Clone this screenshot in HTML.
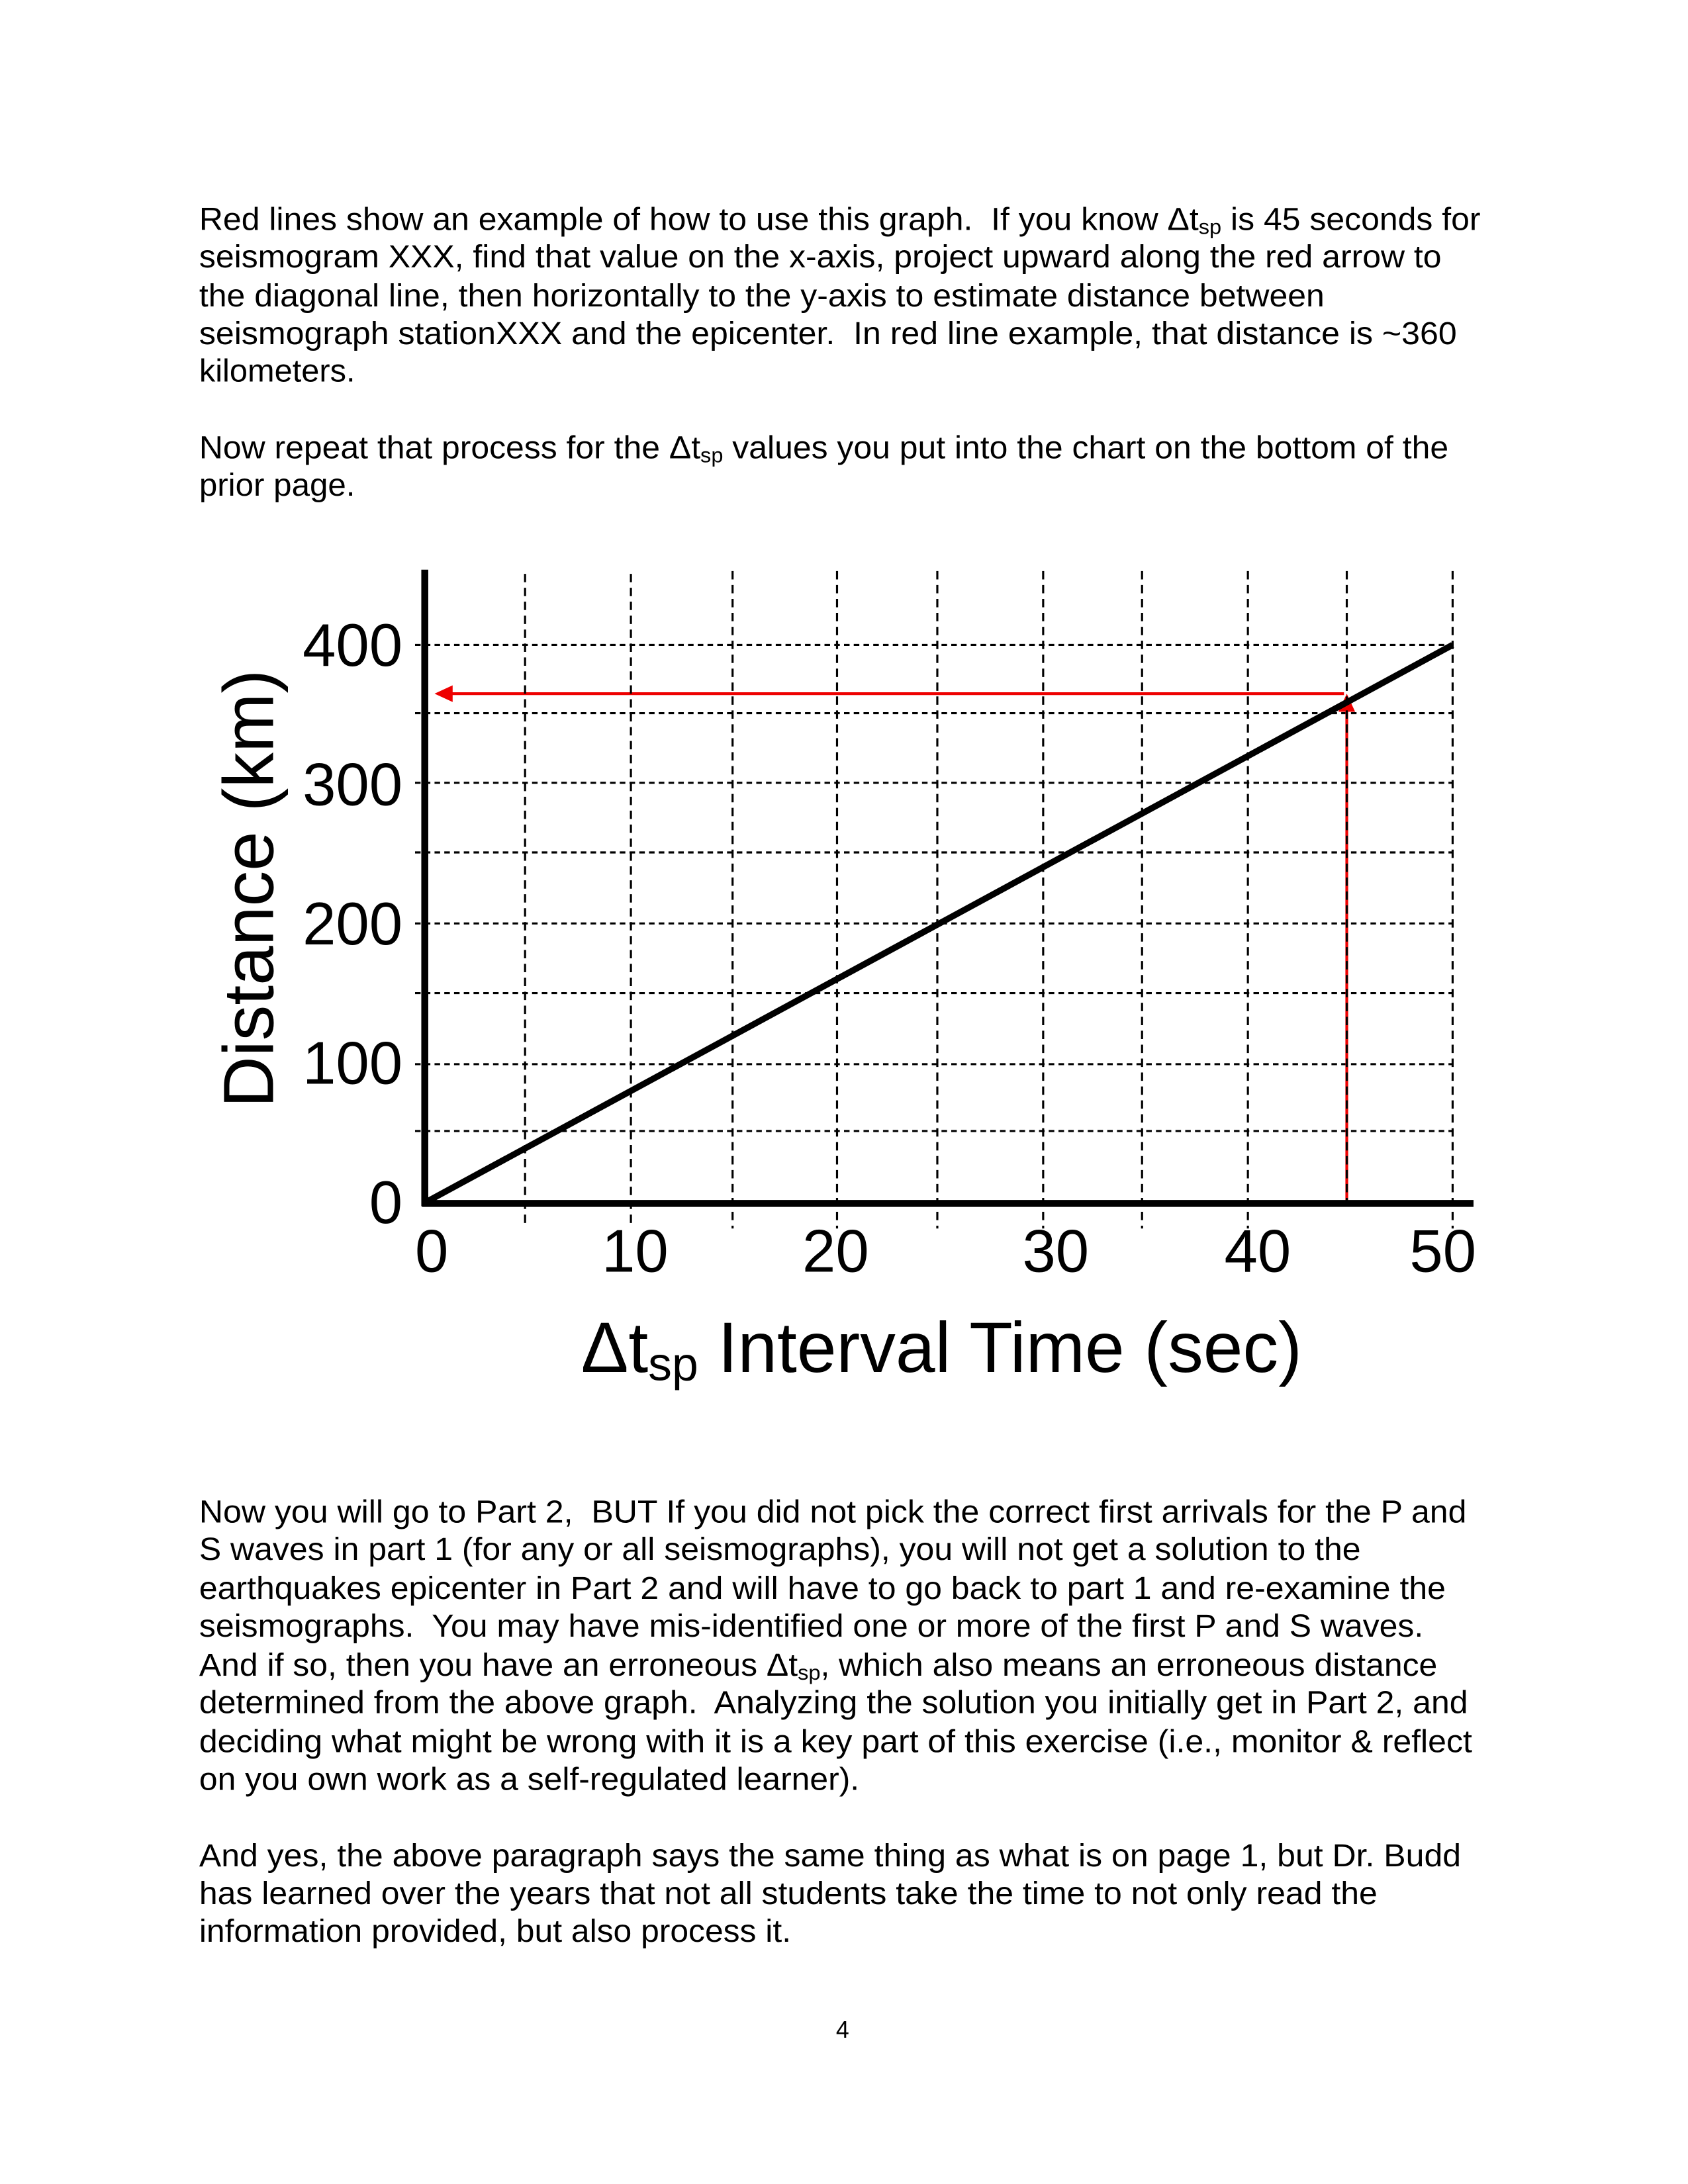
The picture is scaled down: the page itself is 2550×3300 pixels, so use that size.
<!DOCTYPE html>
<html><head><meta charset="utf-8"><style>
html,body{margin:0;padding:0;background:#fff;}
svg{display:block;}
text{font-family:"Liberation Sans",Arial,sans-serif;fill:#000;white-space:pre;}
</style></head><body>
<svg width="2550" height="3300" viewBox="0 0 1212 1568" preserveAspectRatio="none" xmlns="http://www.w3.org/2000/svg" xml:space="preserve">
<rect width="1212" height="1568" fill="#fff"/>
<g font-size="23">
<text x="143" y="165" textLength="920" lengthAdjust="spacingAndGlyphs">Red lines show an example of how to use this graph.  If you know Δt<tspan font-size="15" dy="3">sp</tspan><tspan dy="-3"> is 45 seconds for</tspan></text>
<text x="143" y="192" textLength="892" lengthAdjust="spacingAndGlyphs">seismogram XXX, find that value on the x-axis, project upward along the red arrow to</text>
<text x="143" y="220" textLength="808" lengthAdjust="spacingAndGlyphs">the diagonal line, then horizontally to the y-axis to estimate distance between</text>
<text x="143" y="247" textLength="903" lengthAdjust="spacingAndGlyphs">seismograph stationXXX and the epicenter.  In red line example, that distance is ~360</text>
<text x="143" y="274" textLength="112" lengthAdjust="spacingAndGlyphs">kilometers.</text>
<text x="143" y="329" textLength="897" lengthAdjust="spacingAndGlyphs">Now repeat that process for the Δt<tspan font-size="15" dy="3">sp</tspan><tspan dy="-3"> values you put into the chart on the bottom of the</tspan></text>
<text x="143" y="356" textLength="112" lengthAdjust="spacingAndGlyphs">prior page.</text>

<text x="143" y="1093" textLength="910" lengthAdjust="spacingAndGlyphs">Now you will go to Part 2,  BUT If you did not pick the correct first arrivals for the P and</text>
<text x="143" y="1120" textLength="834" lengthAdjust="spacingAndGlyphs">S waves in part 1 (for any or all seismographs), you will not get a solution to the</text>
<text x="143" y="1148" textLength="895" lengthAdjust="spacingAndGlyphs">earthquakes epicenter in Part 2 and will have to go back to part 1 and re-examine the</text>
<text x="143" y="1175" textLength="879" lengthAdjust="spacingAndGlyphs">seismographs.  You may have mis-identified one or more of the first P and S waves.</text>
<text x="143" y="1203" textLength="889" lengthAdjust="spacingAndGlyphs">And if so, then you have an erroneous Δt<tspan font-size="15" dy="3">sp</tspan><tspan dy="-3">, which also means an erroneous distance</tspan></text>
<text x="143" y="1230" textLength="911" lengthAdjust="spacingAndGlyphs">determined from the above graph.  Analyzing the solution you initially get in Part 2, and</text>
<text x="143" y="1258" textLength="914" lengthAdjust="spacingAndGlyphs">deciding what might be wrong with it is a key part of this exercise (i.e., monitor &amp; reflect</text>
<text x="143" y="1285" textLength="474" lengthAdjust="spacingAndGlyphs">on you own work as a self-regulated learner).</text>
<text x="143" y="1340" textLength="906" lengthAdjust="spacingAndGlyphs">And yes, the above paragraph says the same thing as what is on page 1, but Dr. Budd</text>
<text x="143" y="1367" textLength="846" lengthAdjust="spacingAndGlyphs">has learned over the years that not all students take the time to not only read the</text>
<text x="143" y="1394" textLength="425" lengthAdjust="spacingAndGlyphs">information provided, but also process it.</text>
</g>
<text x="605" y="1463" font-size="17" text-anchor="middle">4</text>

<g stroke="#000" stroke-width="1.5" stroke-dasharray="4,3" fill="none">
<line x1="298" y1="463" x2="1043" y2="463"/>
<line x1="298" y1="512" x2="1043" y2="512"/>
<line x1="298" y1="562" x2="1043" y2="562"/>
<line x1="298" y1="612" x2="1043" y2="612"/>
<line x1="298" y1="663" x2="1043" y2="663"/>
<line x1="298" y1="713" x2="1043" y2="713"/>
<line x1="298" y1="764" x2="1043" y2="764"/>
<line x1="298" y1="812" x2="1043" y2="812"/>
</g>
<line x1="967" y1="864" x2="967" y2="510" stroke="#e00" stroke-width="2"/>
<polygon points="967,498 961,511 973,511" fill="#e00"/>
<line x1="965" y1="498" x2="322" y2="498" stroke="#e00" stroke-width="2"/>
<polygon points="312,498 325,492 325,504" fill="#e00"/>
<g stroke="#000" stroke-width="1.5" stroke-dasharray="6,4" fill="none">
<line x1="377" y1="412" x2="377" y2="882"/>
<line x1="453" y1="412" x2="453" y2="882"/>
<line x1="526" y1="410" x2="526" y2="882"/>
<line x1="601" y1="410" x2="601" y2="882"/>
<line x1="673" y1="410" x2="673" y2="882"/>
<line x1="749" y1="410" x2="749" y2="882"/>
<line x1="820" y1="410" x2="820" y2="882"/>
<line x1="896" y1="410" x2="896" y2="882"/>
<line x1="967" y1="410" x2="967" y2="862"/>
<line x1="1043" y1="410" x2="1043" y2="882"/>
</g>
<line x1="305" y1="409" x2="305" y2="866" stroke="#000" stroke-width="5"/>
<line x1="303" y1="864" x2="1058" y2="864" stroke="#000" stroke-width="5"/>
<line x1="306" y1="863" x2="1043" y2="463" stroke="#000" stroke-width="4.5"/>

<g font-size="43" text-anchor="end">
<text x="289" y="478">400</text>
<text x="289" y="578">300</text>
<text x="289" y="678">200</text>
<text x="289" y="778">100</text>
<text x="289" y="878">0</text>
</g>
<g font-size="43" text-anchor="middle">
<text x="310" y="913">0</text>
<text x="456" y="913">10</text>
<text x="600" y="913">20</text>
<text x="758" y="913">30</text>
<text x="903" y="913">40</text>
<text x="1036" y="913">50</text>
</g>
<text transform="translate(196,638) rotate(-90)" font-size="51" text-anchor="middle">Distance (km)</text>
<text x="676" y="985" font-size="51" text-anchor="middle">Δt<tspan font-size="34" dy="6">sp</tspan><tspan dy="-6"> Interval Time (sec)</tspan></text>
</svg>
</body></html>
